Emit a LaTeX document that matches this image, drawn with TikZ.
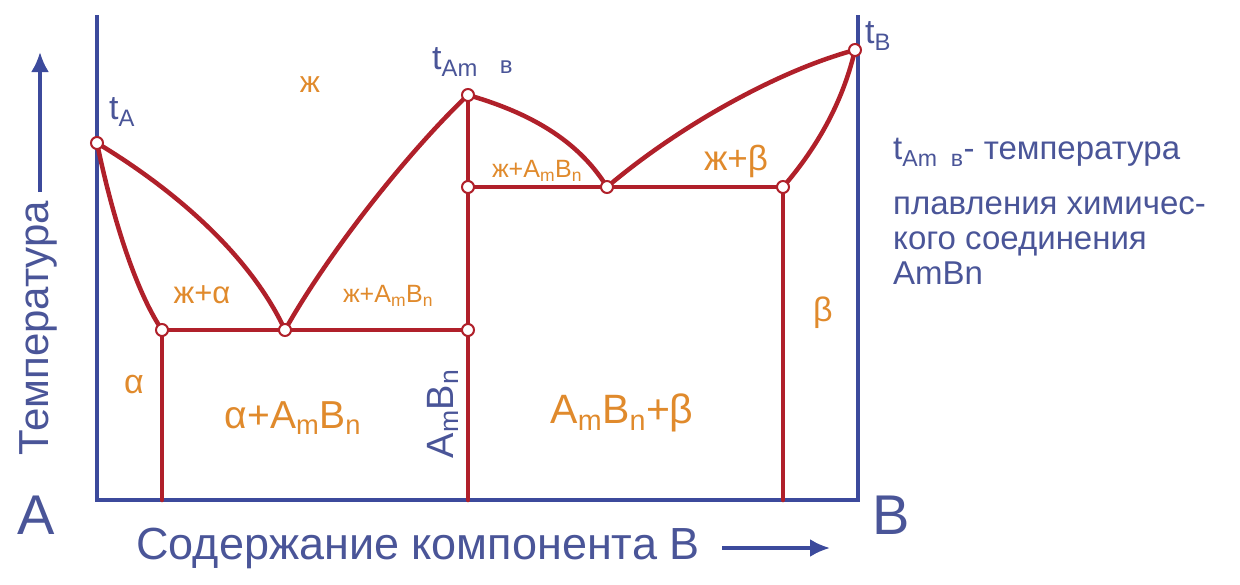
\documentclass[tikz,border=0pt]{standalone}
\usepackage{fontspec}
\setmainfont{Liberation Sans}
\usetikzlibrary{arrows.meta}
\definecolor{axisblue}{HTML}{3C4A9C}
\definecolor{txtblue}{HTML}{4A5598}
\definecolor{linered}{HTML}{B0202A}
\definecolor{lblorange}{HTML}{E08A2C}
\tikzset{
  axis/.style={draw=axisblue, line width=3.5pt},
  phase/.style={draw=linered, line width=4.5pt, line cap=round, line join=round},
  pt/.style={circle, draw=linered, fill=white, line width=2pt, inner sep=0pt, minimum size=12pt},
  olbl/.style={text=lblorange, inner sep=0pt},
  blbl/.style={text=txtblue, inner sep=0pt},
  arr/.style={draw=axisblue, line width=3.5pt, -{Latex[length=20pt,width=18pt]}},
}
\newcommand{\fs}[1]{\fontsize{#1}{#1}\selectfont}
\begin{document}
\begin{tikzpicture}[x=1pt,y=-1pt]
\useasboundingbox (0,0) rectangle (1240,584);
% key points
\coordinate (tA) at (97,143);
\coordinate (tC) at (468,95);
\coordinate (tB) at (855,50);
\coordinate (E1) at (285,330);
\coordinate (E2) at (607,187);
\coordinate (S1) at (162,330);
\coordinate (C1) at (468,330);
\coordinate (C2) at (468,187);
\coordinate (S2) at (783,187);
\coordinate (S1b) at (162,500);
\coordinate (Cb) at (468,500);
\coordinate (S2b) at (783,500);
\coordinate (Atop) at (97,15);
\coordinate (Abot) at (97,500);
\coordinate (Btop) at (858,15);
\coordinate (Bbot) at (858,500);
% axes
\draw[axis] (Atop) -- (Abot) -- (Bbot) -- (Btop);
% phase lines
\draw[phase] (tA) .. controls (175,190) and (250,255) .. (E1);
\draw[phase] (tA) .. controls (112,215) and (135,290) .. (S1);
\draw[phase] (E1) .. controls (330,250) and (410,150) .. (tC);
\draw[phase] (tC) .. controls (520,110) and (575,135) .. (E2);
\draw[phase] (E2) .. controls (680,125) and (780,70) .. (tB);
\draw[phase] (tB) .. controls (842,105) and (815,150) .. (S2);
\draw[phase] (S1) -- (C1);
\draw[phase] (C2) -- (S2);
\draw[phase] (S1) -- (S1b);
\draw[phase] (tC) -- (Cb);
\draw[phase] (S2) -- (S2b);
% points
\foreach \p in {tA,tC,tB,E1,E2,S1,C1,C2,S2} \node[pt] at (\p) {};
% orange labels
\node[olbl] (Lzh) at (310,85) {\fs{30}ж};
\node[olbl] (Lza) at (202,295) {\fs{31}ж+α};
\node[olbl] (Lzc1) at (388,296) {\fs{25}ж+A$_{\mathrm{m}}$B$_{\mathrm{n}}$};
\node[olbl] (Lzc2) at (537,171) {\fs{25}ж+A$_{\mathrm{m}}$B$_{\mathrm{n}}$};
\node[olbl] (Lzb) at (736,161) {\fs{35}ж+β};
\node[olbl] (Lb) at (823,313) {\fs{34}β};
\node[olbl] (La) at (134,385) {\fs{34}α};
\node[olbl] (Lac) at (293,418) {\fs{39}α+A$_{\mathrm{m}}$B$_{\mathrm{n}}$};
\node[olbl] (Lcb) at (622,413) {\fs{41}A$_{\mathrm{m}}$B$_{\mathrm{n}}$+β};
% blue labels
\node[blbl, rotate=90] (Lc) at (443,414) {\fs{38}A$_{\mathrm{m}}$B$_{\mathrm{n}}$};
\node[blbl] (LtA) at (122,112) {\fs{34}t$_{\mathrm{A}}$};
\node[blbl, anchor=west] (LtC) at (432,62) {\fs{34}t$_{\mathrm{Am}}$\hspace{22pt}\fs{24}\raisebox{-4pt}{в}};
\node[blbl] (LtB) at (878,36) {\fs{34}t$_{\mathrm{B}}$};
\node[blbl, anchor=west] (LA) at (17,515) {\fs{56}A};
\node[blbl, anchor=west] (LB) at (872,515) {\fs{56}B};
\node[blbl, anchor=north west, align=left, font=\fs{33}] (Note) at (893,138)
  {t$_{\mathrm{Am\;\; в}}$- температура\\[22pt] плавления химичес-\\[2pt] кого соединения\\[2pt] AmBn};
% axis titles
\node[blbl, anchor=west] (Xt) at (136,548) {\fs{45}Содержание компонента В};
\coordinate (Xa1) at (722,548);
\coordinate (Xa2) at (830,548);
\draw[arr] (Xa1) -- (Xa2);
\node[blbl, rotate=90] (Yt) at (38,328) {\fs{42}Температура};
\coordinate (Ya1) at (40,192);
\coordinate (Ya2) at (40,52);
\draw[arr] (Ya1) -- (Ya2);
\end{tikzpicture}
\end{document}
